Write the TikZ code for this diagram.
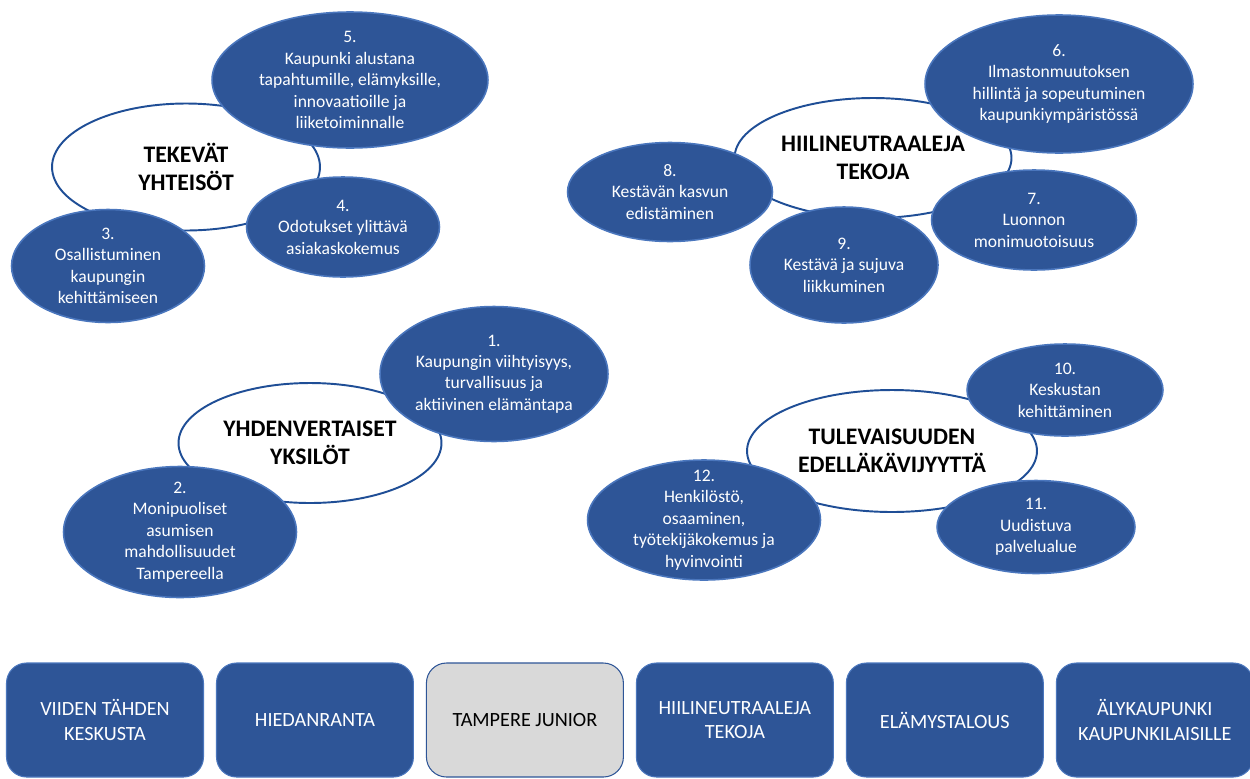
\documentclass[tikz,border=0pt]{standalone}
\usepackage{fontspec}
\setmainfont{Carlito}
\usetikzlibrary{shapes.geometric,positioning}

\definecolor{goalblue}{HTML}{2E5597}
\definecolor{goalrim}{HTML}{4A76BD}
\definecolor{themeline}{HTML}{1F4E96}
\definecolor{juniorgray}{HTML}{D9D9D9}

\tikzset{
    theme/.style={ellipse, draw=themeline, line width=1.1pt, fill=white, inner sep=0pt,
        align=center, font=\fontsize{13.5}{16}\selectfont\bfseries},
    goal/.style={ellipse, draw=goalrim, line width=0.9pt, fill=goalblue, inner sep=0pt},
    goaltext/.style={text=white, align=center, inner sep=0pt, font=\fontsize{10}{12.2}\selectfont},
    program/.style={rectangle, rounded corners=0.4cm, draw=goalrim, line width=0.6pt,
        fill=goalblue, text=white, align=center, minimum width=3.94cm, minimum height=2.28cm,
        font=\fontsize{11.5}{14}\selectfont},
    junior/.style={program, fill=juniorgray, draw=goalblue, text=black}
}

\begin{document}
\begin{tikzpicture}[x=0.02cm, y=-0.02cm, node distance=4.2cm, on grid]
            \useasboundingbox (0,0) rectangle (1250,778);
            % themes
            \node[theme, minimum width=5.36cm, minimum height=2.54cm] (tekevat) at (186,167) {TEKEVÄT\\YHTEISÖT};
            \node[theme, minimum width=5.54cm, minimum height=2.4cm] (hiili) at (873,158) {HIILINEUTRAALEJA\\TEKOJA};
            \node[theme, minimum width=5.26cm, minimum height=2.4cm] (yhden) at (310,443) {YHDENVERTAISET\\YKSILÖT};
            \node[theme, minimum width=5.8cm, minimum height=2.44cm] (tulev) at (892,451) {TULEVAISUUDEN\\EDELLÄKÄVIJYYTTÄ};
            % goals
            \node[goal, minimum width=4.56cm, minimum height=2.7cm] (g1) at (494,374) {};
            \node[goaltext] (g1text) at (g1) {1.\\Kaupungin viihtyisyys,\\turvallisuus ja\\aktiivinen elämäntapa};
            \node[goal, minimum width=4.66cm, minimum height=2.62cm] (g2) at (180,532) {};
            \node[goaltext] (g2text) at (g2) {2.\\Monipuoliset\\asumisen\\mahdollisuudet\\Tampereella};
            \node[goal, minimum width=3.86cm, minimum height=2.26cm] (g3) at (108,266) {};
            \node[goaltext] (g3text) at (g3) {3.\\Osallistuminen\\kaupungin\\kehittämiseen};
            \node[goal, minimum width=3.86cm, minimum height=2.0cm] (g4) at (343,227) {};
            \node[goaltext] (g4text) at (g4) {4.\\Odotukset ylittävä\\asiakaskokemus};
            \node[goal, minimum width=5.52cm, minimum height=2.72cm] (g5) at (350,80) {};
            \node[goaltext] (g5text) at (g5) {5.\\Kaupunki alustana\\tapahtumille, elämyksille,\\innovaatioille ja\\liiketoiminnalle};
            \node[goal, minimum width=5.36cm, minimum height=2.76cm] (g6) at (1059,84) {};
            \node[goaltext] (g6text) at (g6) {6.\\Ilmastonmuutoksen\\hillintä ja sopeutuminen\\kaupunkiympäristössä};
            \node[goal, minimum width=4.1cm, minimum height=2.0cm] (g7) at (1034,220) {};
            \node[goaltext] (g7text) at (g7) {7.\\Luonnon\\monimuotoisuus};
            \node[goal, minimum width=4.1cm, minimum height=1.98cm] (g8) at (670,192) {};
            \node[goaltext] (g8text) at (g8) {8.\\Kestävän kasvun\\edistäminen};
            \node[goal, minimum width=3.76cm, minimum height=2.32cm] (g9) at (844,265) {};
            \node[goaltext] (g9text) at (g9) {9.\\Kestävä ja sujuva\\liikkuminen};
            \node[goal, minimum width=3.92cm, minimum height=1.84cm] (g10) at (1065,390) {};
            \node[goaltext] (g10text) at (g10) {10.\\Keskustan\\kehittäminen};
            \node[goal, minimum width=3.96cm, minimum height=1.86cm] (g11) at (1036,527) {};
            \node[goaltext] (g11text) at (g11) {11.\\Uudistuva\\palvelualue};
            \node[goal, minimum width=4.66cm, minimum height=2.4cm] (g12) at (704,520) {};
            \node[goaltext] (g12text) at (g12) {12.\\Henkilöstö,\\osaaminen,\\työtekijäkokemus ja\\hyvinvointi};
            % programmes
            \node[program] (viiden) at (105,720) {VIIDEN TÄHDEN\\KESKUSTA};
            \node[program] (hiedan) [right=of viiden] {HIEDANRANTA};
            \node[junior] (junior) [right=of hiedan] {TAMPERE JUNIOR};
            \node[program] (hiiliprog) [right=of junior] {HIILINEUTRAALEJA\\TEKOJA};
            \node[program] (elamys) [right=of hiiliprog] {ELÄMYSTALOUS};
            \node[program] (aly) [right=of elamys] {ÄLYKAUPUNKI\\KAUPUNKILAISILLE};
        \end{tikzpicture}
\end{document}
